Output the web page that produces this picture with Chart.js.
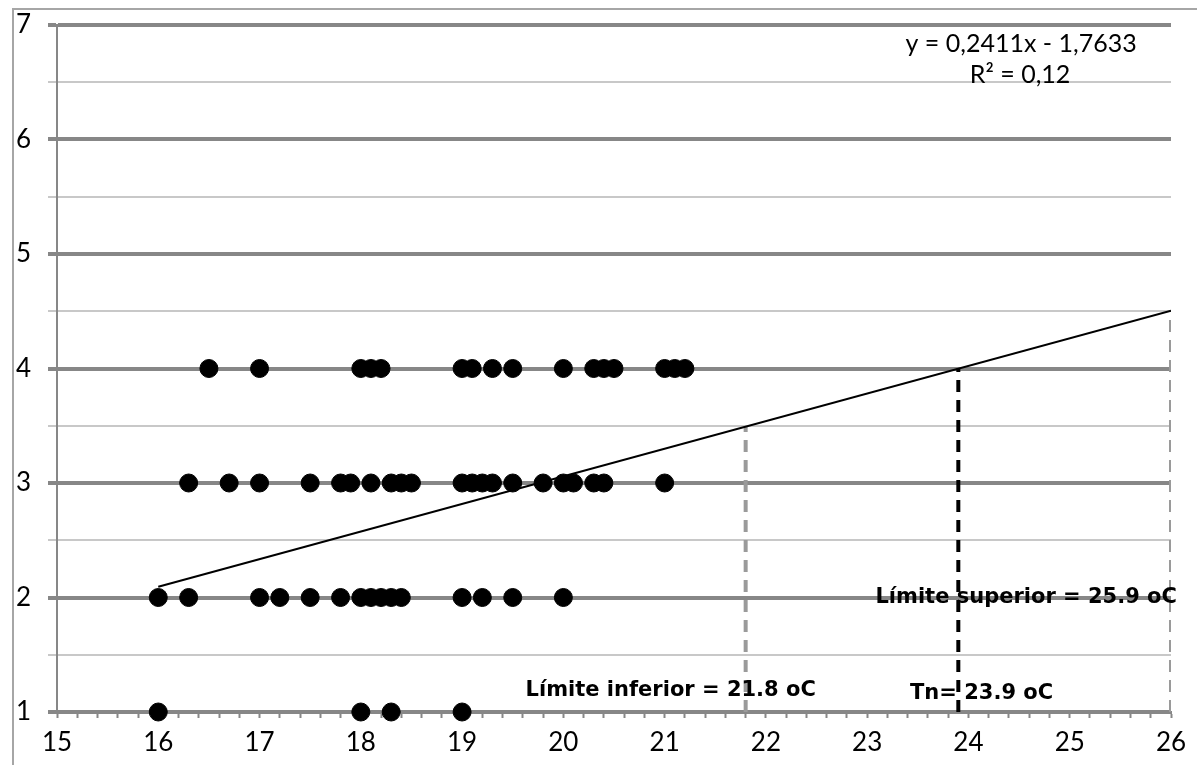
<!DOCTYPE html>
<html>
<head>
<meta charset="utf-8">
<title>Tn scatter</title>
<script src="https://cdn.jsdelivr.net/npm/chart.js@4.4.1/dist/chart.umd.min.js"></script>
<style>
  html, body { margin: 0; padding: 0; background: #fff; }
  #chart { display: block; }
</style>
</head>
<body>
<canvas id="chart" width="1197" height="765"></canvas>
<script>
// ── data ───────────────────────────────────────────────
const row4 = [16.5, 17, 18, 18.1, 18.2, 19, 19.1, 19.3, 19.5, 20, 20.3, 20.4, 20.5, 21, 21.1, 21.2];
const row3 = [16.3, 16.7, 17, 17.5, 17.8, 17.9, 18.1, 18.3, 18.4, 18.5, 19, 19.1, 19.2, 19.3, 19.5, 19.8, 20, 20.1, 20.3, 20.4, 21];
const row2 = [16, 16.3, 17, 17.2, 17.5, 17.8, 18, 18.1, 18.2, 18.3, 18.4, 19, 19.2, 19.5, 20];
const row1 = [16, 18, 18.3, 19];

// trend line end points (y = 0,2411x - 1,7633)
const trendX = [16, 26];
const trendY = [2.094, 4.505];

// vertical guides: x, top value
const guideX = [21.8, 23.9, 26];
const guideTop = [3.493, 3.999, 4.505];
const guideColor = ['#9a9a9a', '#000000', '#9a9a9a'];

const xTickMin = 15, xTickMax = 26;
const yTickMin = 1, yTickMax = 7;

// text notes: [text, x value, y value, bold]
const notes = [
  ['y = 0,2411x - 1,7633', 24.52, 6.834, false],
  ['R² = 0,12', 24.51, 6.563, false],
  ['Límite superior = 25.9 oC', 24.57, 2.0, true],
  ['Límite inferior = 21.8 oC', 21.06, 1.19, true],
  ['Tn= 23.9 oC', 24.13, 1.165, true],
];

const toPoints = (xs, y) => xs.map(x => ({ x, y }));
const isWhole = v => Math.abs(v - Math.round(v)) < 1e-6;

const datasets = [];

// dashed guides go first so the trend and dots sit on top
guideX.forEach((gx, i) => {
  datasets.push({
    type: 'line',
    data: [{ x: gx, y: yTickMin }, { x: gx, y: guideTop[i] }],
    borderColor: guideColor[i],
    borderWidth: 4,
    borderDash: [12, 8],
    borderCapStyle: 'butt',
    pointRadius: 0,
    fill: false,
    order: 3,
  });
});

datasets.push({
  type: 'line',
  data: trendX.map((x, i) => ({ x, y: trendY[i] })),
  borderColor: '#000',
  borderWidth: 2,
  pointRadius: 0,
  fill: false,
  order: 2,
});

datasets.push({
  type: 'scatter',
  data: [
    ...toPoints(row4, 4),
    ...toPoints(row3, 3),
    ...toPoints(row2, 2),
    ...toPoints(row1, 1),
  ],
  backgroundColor: '#000',
  borderColor: '#000',
  pointRadius: 9,
  clip: false,
  order: 1,
});

/** frame + text notes */
const decor = {
  id: 'decor',
  beforeDraw(chart) {
    const c = chart.ctx;
    c.save();
    c.strokeStyle = '#a6a6a6';
    c.lineWidth = 2;
    c.beginPath();
    c.moveTo(13, 765);
    c.lineTo(13, 9);
    c.lineTo(1197, 9);
    c.stroke();
    c.restore();
  },
  afterDatasetsDraw(chart) {
    const c = chart.ctx;
    const sx = chart.scales.x, sy = chart.scales.y;
    c.save();
    c.textAlign = 'center';
    c.textBaseline = 'middle';
    c.fillStyle = '#000';
    notes.forEach(([t, x, y, bold]) => {
      c.font = bold ? 'bold 21px "DejaVu Sans"' : '25px Lato';
      c.fillText(t, sx.getPixelForValue(x), sy.getPixelForValue(y));
    });
    c.restore();
  },
};

new Chart(document.getElementById('chart'), {
  type: 'scatter',
  data: { datasets },
  plugins: [decor],
  options: {
    responsive: false,
    animation: false,
    devicePixelRatio: 1,
    layout: { padding: { left: 16, top: 25, right: 26, bottom: 0 } },
    plugins: {
      legend: { display: false },
      tooltip: { enabled: false },
    },
    scales: {
      x: {
        type: 'linear',
        min: xTickMin,
        max: xTickMax,
        afterFit(scale) { scale.height = 53; },
        grid: {
          drawOnChartArea: false,
          drawTicks: true,
          tickLength: 6,
          tickWidth: 2,
          tickColor: '#878787',
        },
        border: { color: '#878787', width: 3 },
        ticks: {
          stepSize: 0.2,
          autoSkip: false,
          maxRotation: 0,
          padding: 9,
          color: '#000',
          font: { family: 'Lato', size: 26 },
          callback(v) { return isWhole(v) ? String(Math.round(v)) : ''; },
        },
      },
      y: {
        type: 'linear',
        min: yTickMin,
        max: yTickMax,
        afterFit(scale) { scale.width = 41; },
        grid: {
          color: ctx => isWhole(ctx.tick.value) ? '#878787' : '#c8c8c8',
          lineWidth: ctx => isWhole(ctx.tick.value) ? 4 : 2,
          tickLength: 9,
        },
        border: { color: '#878787', width: 2 },
        ticks: {
          stepSize: 0.5,
          crossAlign: 'far',
          color: '#000',
          font: { family: 'Lato', size: 26 },
          callback(v) { return isWhole(v) ? String(Math.round(v)) : ''; },
        },
      },
    },
  },
});
</script>
</body>
</html>
